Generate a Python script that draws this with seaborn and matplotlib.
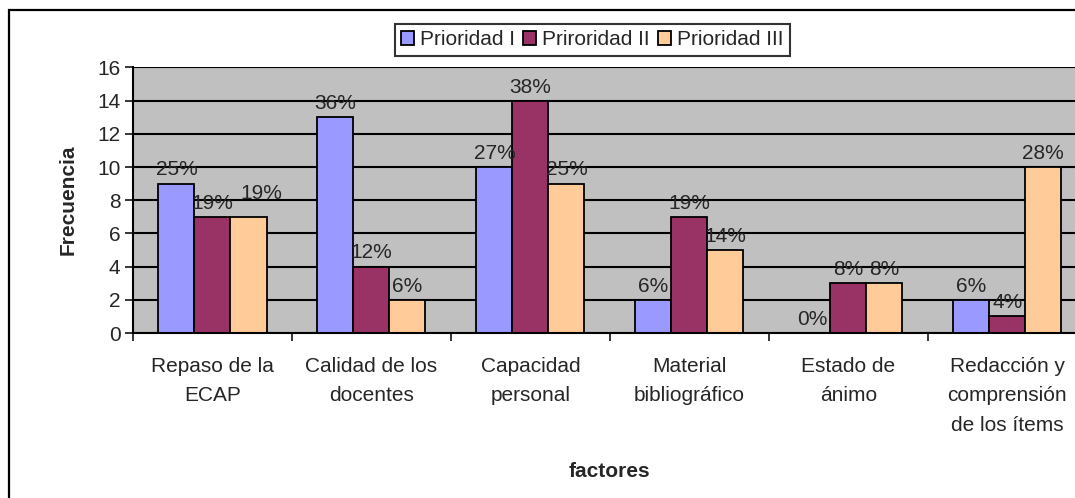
import pandas as pd
import matplotlib.pyplot as plt
import seaborn as sns
from matplotlib.patches import Rectangle

# Data
factores = ["Repaso de la\nECAP", "Calidad de los\ndocentes", "Capacidad\npersonal",
            "Material\nbibliográfico", "Estado de\nánimo", "Redacción y\ncomprensión\nde los ítems"]
series = ["Prioridad I", "Priroridad II", "Prioridad III"]
prioridad_1 = [9, 13, 10, 2, 0, 2]
prioridad_2 = [7, 4, 14, 7, 3, 1]
prioridad_3 = [7, 2, 9, 5, 3, 10]
pct_1 = ["25%", "36%", "27%", "6%", "0%", "6%"]
pct_2 = ["19%", "12%", "38%", "19%", "8%", "4%"]
pct_3 = ["19%", "6%", "25%", "14%", "8%", "28%"]
colors = ["#9999FF", "#993366", "#FFCC99"]

rows = []
for s, vals, pcts in zip(series, [prioridad_1, prioridad_2, prioridad_3], [pct_1, pct_2, pct_3]):
    for f, v, p in zip(factores, vals, pcts):
        rows.append({"factor": f, "serie": s, "valor": v, "pct": p})
df = pd.DataFrame(rows)

sns.set_style("white")
plt.rcParams['font.family'] = ['Liberation Sans', 'DejaVu Sans']
FS = 15

fig = plt.figure(figsize=(10.75, 4.98), dpi=100)
ax = fig.add_axes([0.1237, 0.3313, 0.8873, 0.5332])
ax.set_facecolor("#C0C0C0")
ax.set_axisbelow(True)

sns.barplot(data=df, x="factor", y="valor", hue="serie", palette=colors,
            width=0.68, edgecolor="black", linewidth=1.3, saturation=1, ax=ax)

# percent labels; when two neighbouring labels would collide, nudge the later one
conts = list(ax.containers)
for k, (cont, pcts) in enumerate(zip(conts, [pct_1, pct_2, pct_3])):
    for j, (bar, p) in enumerate(zip(cont, pcts)):
        h = bar.get_height()
        dx, dy = 0, 3
        if k > 0 and len(p) > 2 and abs(conts[k - 1][j].get_height() - h) < 0.5:
            dx, dy = 9, 10
        ax.annotate(p, (bar.get_x() + bar.get_width() / 2, h), xytext=(dx, dy),
                    textcoords="offset points", ha="center", va="bottom", fontsize=FS)

ax.set_ylim(0, 16)
ax.set_xlim(-0.5, 5.5)
ax.set_yticks(range(0, 17, 2))
ax.yaxis.grid(True, color="black", linewidth=1.5)
ax.xaxis.grid(False)
ax.tick_params(axis="y", labelsize=FS, length=6, width=1.3, direction="out", left=True, pad=3)
ax.tick_params(axis="x", which="major", labelsize=FS, length=0, pad=17)
ax.set_xticks([i - 0.5 for i in range(7)], minor=True)
ax.tick_params(axis="x", which="minor", length=6, width=1.3, direction="out", bottom=True)
for lab in ax.get_xticklabels():
    lab.set_linespacing(1.7)
    lab.set_verticalalignment("top")

for side in ["top", "right"]:
    ax.spines[side].set_visible(False)
for side in ["left", "bottom"]:
    ax.spines[side].set_color("black")
    ax.spines[side].set_linewidth(1.5)

ax.set_ylabel("Frecuencia", fontsize=FS, fontweight="bold", labelpad=14)
ax.set_xlabel("factores", fontsize=FS, fontweight="bold", labelpad=20)

ax.get_legend().remove()
handles = [Rectangle((0, 0), 1, 1, facecolor=c, edgecolor="black", linewidth=1.3) for c in colors]
leg = fig.legend(handles, series, loc="center", bbox_to_anchor=(0.551, 0.92), ncol=3,
                 fontsize=FS, frameon=True, fancybox=False, edgecolor="black",
                 handlelength=0.6, handleheight=0.6, handletextpad=0.3, columnspacing=0.4,
                 borderpad=0.3)
leg.get_frame().set_linewidth(1.5)

# outer chart frame
fig.patches.append(Rectangle((9 / 1075, -0.2), 1.5, 1.18, transform=fig.transFigure,
                             fill=False, edgecolor="black", linewidth=1.6))

fig.savefig("out.png", dpi=100)
